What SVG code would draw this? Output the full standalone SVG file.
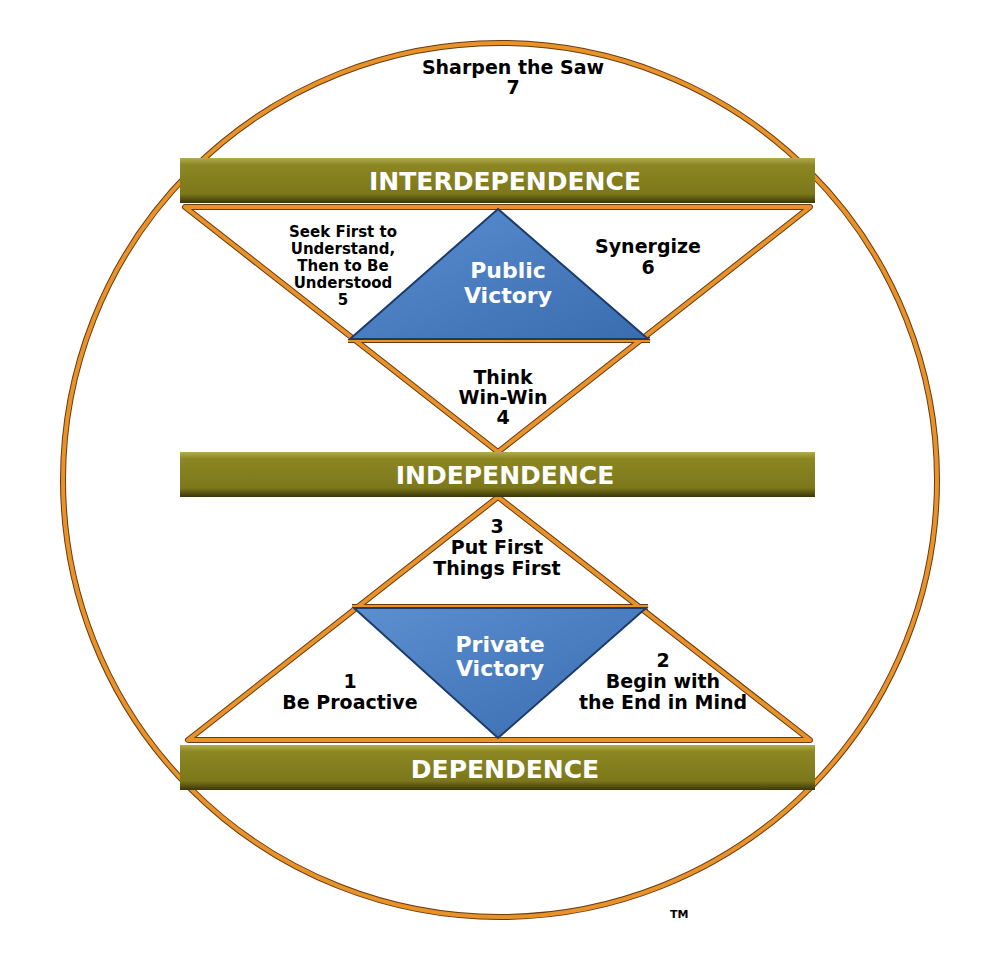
<svg xmlns="http://www.w3.org/2000/svg" width="1005" height="980" viewBox="0 0 1005 980">
<defs>
<linearGradient id="bar" x1="0" y1="0" x2="0" y2="1">
<stop offset="0" stop-color="#b0ac50"/><stop offset="0.15" stop-color="#8c8722"/><stop offset="0.8" stop-color="#7c771a"/><stop offset="1" stop-color="#3a360a"/>
</linearGradient>
<linearGradient id="blue" x1="0" y1="0" x2="1" y2="1">
<stop offset="0" stop-color="#5a8fd0"/><stop offset="1" stop-color="#3a6cb0"/>
</linearGradient>
</defs>
<style>
.o{fill:none;stroke:#e8922a;stroke-width:4;stroke-linejoin:round}
.od{fill:none;stroke:#6a3a10;stroke-width:6;stroke-linejoin:round}
.t{font-family:"DejaVu Sans",sans-serif;font-weight:bold;font-size:19px;text-anchor:middle;fill:#000}
.s{font-family:"DejaVu Sans",sans-serif;font-weight:bold;font-size:15px;text-anchor:middle;fill:#000}
.w{font-family:"DejaVu Sans",sans-serif;font-weight:bold;font-size:22px;text-anchor:middle;fill:#fff}
.b{font-family:"DejaVu Sans",sans-serif;font-weight:bold;font-size:25px;text-anchor:middle;fill:#fff}
</style>
<rect width="1005" height="980" fill="#fff"/>
<g id="connectors">
<circle cx="500" cy="480" r="437" class="od" stroke-width="4"/>
<circle cx="500" cy="480" r="437" class="o" stroke-width="2.5"/>
<path d="M185,207 L810,207 L498,452 Z M348,340 L650,340 M188,740 L810,740 L498,497 Z M352,607 L648,607" class="od"/>
<path d="M185,207 L810,207 L498,452 Z M348,340 L650,340 M188,740 L810,740 L498,497 Z M352,607 L648,607" class="o"/>
</g>
<g id="public-victory">
<path d="M498,209 L648,339 L350,339 Z" fill="url(#blue)" stroke="#1c3a6a" stroke-width="2"/>
<text class="w" x="508" y="278">Public</text><text class="w" x="508" y="303">Victory</text>
</g>
<g id="private-victory">
<path d="M354,608 L646,608 L498,738 Z" fill="url(#blue)" stroke="#1c3a6a" stroke-width="2"/>
<text class="w" x="500" y="652">Private</text><text class="w" x="500" y="676">Victory</text>
</g>
<g id="interdependence"><rect x="180" y="158" width="635" height="45" fill="url(#bar)"/><text class="b" x="505" y="190">INTERDEPENDENCE</text></g>
<g id="independence"><rect x="180" y="452" width="635" height="45" fill="url(#bar)"/><text class="b" x="505" y="484">INDEPENDENCE</text></g>
<g id="dependence"><rect x="180" y="745" width="635" height="45" fill="url(#bar)"/><text class="b" x="505" y="778">DEPENDENCE</text></g>
<g id="saw"><text class="t" x="513" y="74">Sharpen the Saw</text><text class="t" x="513" y="94">7</text></g>
<g id="h5"><text class="s" x="343" y="237">Seek First to</text><text class="s" x="343" y="254">Understand,</text><text class="s" x="343" y="271">Then to Be</text><text class="s" x="343" y="288">Understood</text><text class="s" x="343" y="305">5</text></g>
<g id="h6"><text class="t" x="648" y="253">Synergize</text><text class="t" x="648" y="274">6</text></g>
<g id="h4"><text class="t" x="503" y="384">Think</text><text class="t" x="503" y="404">Win-Win</text><text class="t" x="503" y="424">4</text></g>
<g id="h3"><text class="t" x="497" y="533">3</text><text class="t" x="497" y="554">Put First</text><text class="t" x="497" y="575">Things First</text></g>
<g id="h1"><text class="t" x="350" y="688">1</text><text class="t" x="350" y="709">Be Proactive</text></g>
<g id="h2"><text class="t" x="663" y="667">2</text><text class="t" x="663" y="688">Begin with</text><text class="t" x="663" y="709">the End in Mind</text></g>
<text x="670" y="918" style="font-family:'DejaVu Sans',sans-serif;font-weight:bold;font-size:11px">TM</text>
</svg>
